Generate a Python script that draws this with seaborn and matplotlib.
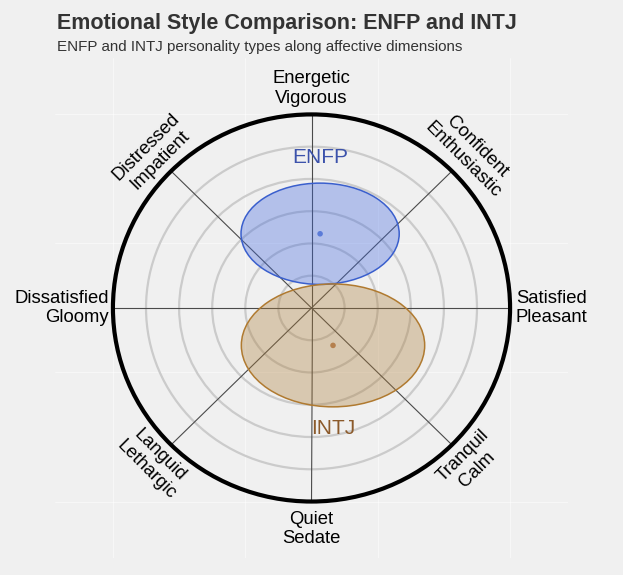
import numpy as np
import pandas as pd
import matplotlib
matplotlib.use("Agg")
import matplotlib.pyplot as plt
from matplotlib.patches import Ellipse, Circle
import seaborn as sns

# Personality types placed on the affect circle (valence on x, arousal on y)
types = ["ENFP", "INTJ"]
valence = [0.052, 0.130]
arousal = [0.460, -0.232]
spread_valence = [0.478, 0.554]   # semi-axis along x
spread_arousal = [0.314, 0.381]   # semi-axis along y

# Dimension labels, counter-clockwise from the right
dimension_labels = [
    "Satisfied\nPleasant",
    "Confident\nEnthusiastic",
    "Energetic\nVigorous",
    "Distressed\nImpatient",
    "Dissatisfied\nGloomy",
    "Languid\nLethargic",
    "Quiet\nSedate",
    "Tranquil\nCalm",
]
ring_levels = [0.2, 0.4, 0.6, 0.8, 1.0]
outer_radius = 1.2

title = "Emotional Style Comparison: ENFP and INTJ"
subtitle = "ENFP and INTJ personality types along affective dimensions"

fill_colors = {"ENFP": "#4169e1", "INTJ": "#ae7e39"}
edge_colors = {"ENFP": "#3a5fcd", "INTJ": "#b07a30"}
text_colors = {"ENFP": "#3c52ab", "INTJ": "#8b5a2b"}
dot_colors = {"ENFP": "#5b7bd8", "INTJ": "#b5804e"}

df = pd.DataFrame({
    "type": types,
    "x": valence,
    "y": arousal,
    "sx": spread_valence,
    "sy": spread_arousal,
})

sns.set_theme(style="white")
plt.rcParams["font.family"] = ["Liberation Sans", "DejaVu Sans"]

bg = "#f0f0f0"
fig = plt.figure(figsize=(6.23, 5.75), dpi=100, facecolor=bg)
ax = fig.add_axes([0.0883, 0.0296, 0.8234, 0.8696])
ax.set_facecolor(bg)
ax.set_xlim(-1.55, 1.55)
ax.set_ylim(-1.55, 1.55)
for s in ax.spines.values():
    s.set_visible(False)
ax.set_xticks([])
ax.set_yticks([])

# faint panel grid
for g in [-1.2, -0.4, 0.4, 1.2]:
    ax.axvline(g, color="white", lw=0.6, alpha=0.6, zorder=0)
    ax.axhline(g, color="white", lw=0.6, alpha=0.6, zorder=0)

# concentric rings
for r in ring_levels:
    ax.add_patch(Circle((0, 0), r, fill=False, ec="#cbcbcb", lw=1.6, zorder=1))

# radial spokes
angles = np.deg2rad(np.arange(0, 360, 45))
for a in angles:
    ax.plot([0, outer_radius * np.cos(a)], [0, outer_radius * np.sin(a)],
            color="#4a4a4a", lw=0.8, zorder=2)

# outer boundary
ax.add_patch(Circle((0, 0), outer_radius, fill=False, ec="black", lw=3.0, zorder=3))

# dimension labels around the circle
label_fs = 13.3
for lab, a in zip(dimension_labels, np.arange(0, 360, 45)):
    if a == 0:
        ax.text(1.232, 0.0, lab, ha="left", va="center", fontsize=label_fs,
                multialignment="right", color="black")
    elif a == 180:
        ax.text(-1.225, 0.0, lab, ha="right", va="center", fontsize=label_fs,
                multialignment="right", color="black")
    elif a == 90:
        ax.text(0.0, 1.36, lab, ha="center", va="center", fontsize=label_fs,
                multialignment="center", color="black")
    elif a == 270:
        ax.text(0.0, -1.37, lab, ha="center", va="center", fontsize=label_fs,
                multialignment="center", color="black")
    else:
        rad = np.deg2rad(a)
        rot = 45 if a in (135, 315) else -45
        ax.text(1.355 * np.cos(rad), 1.355 * np.sin(rad), lab, ha="center",
                va="center", rotation=rot, rotation_mode="anchor",
                fontsize=label_fs, multialignment="center", color="black")

# type regions
for _, row in df.iterrows():
    t = row["type"]
    ax.add_patch(Ellipse((row["x"], row["y"]), 2 * row["sx"], 2 * row["sy"],
                         fc=fill_colors[t], alpha=0.35, ec="none", zorder=4))
    ax.add_patch(Ellipse((row["x"], row["y"]), 2 * row["sx"], 2 * row["sy"],
                         fc="none", ec=edge_colors[t], lw=1.1, zorder=5))
    if row["y"] >= 0:
        ly = row["y"] + row["sy"] + 0.156
    else:
        ly = row["y"] - row["sy"] - 0.135
    ax.text(row["x"], ly, t, ha="center", va="center", fontsize=15,
            color=text_colors[t], zorder=6)

sns.scatterplot(data=df, x="x", y="y", hue="type", palette=dot_colors,
                s=16, edgecolor="none", legend=False, ax=ax, zorder=6)
ax.set_xlabel("")
ax.set_ylabel("")

fig.text(0.0915, 1 - 29 / 575, title, fontsize=15.5, fontweight="bold",
         color="#333333", ha="left", va="baseline")
fig.text(0.0915, 1 - 51 / 575, subtitle, fontsize=10.9, color="#333333",
         ha="left", va="baseline")

fig.savefig("out.png", dpi=100, facecolor=bg)
